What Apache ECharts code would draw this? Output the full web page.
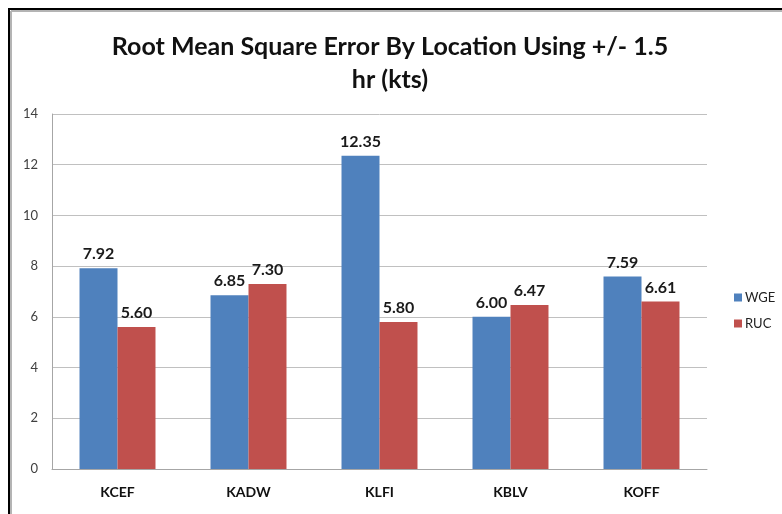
<!DOCTYPE html>
<html>
<head>
<meta charset="utf-8">
<script src="https://cdn.jsdelivr.net/npm/echarts@6/dist/echarts.min.js"></script>
<style>
  html, body { margin: 0; padding: 0; background: #fff; }
  #chart { width: 782px; height: 514px; }
</style>
</head>
<body>
<div id="chart"></div>
<script>
const locations = ['KCEF', 'KADW', 'KLFI', 'KBLV', 'KOFF']
const wgeValues = [7.92, 6.85, 12.35, 6.00, 7.59]
const rucValues = [5.60, 7.30, 5.80, 6.47, 6.61]
const seriesNames = ['WGE', 'RUC']
const seriesColors = ['#4F81BD', '#C0504D']

const chart = echarts.init(document.getElementById('chart'))

const barLabel = {
    show: true,
    position: 'top',
    distance: 6,
    fontFamily: 'Lato',
    fontWeight: 'bold',
    fontSize: 16,
    color: '#1a1a1a',
    formatter: p => p.value.toFixed(2)
}

let option = {
    animation: false,
    title: {
        text: 'Root Mean Square Error By Location Using +/- 1.5\nhr (kts)',
        left: 385,
        textAlign: 'center',
        top: 25,
        textStyle: {
            fontFamily: 'Lato',
            fontWeight: 'bold',
            fontSize: 25,
            lineHeight: 33,
            color: '#111'
        }
    },
    legend: {
        orient: 'vertical',
        left: 729,
        top: 286,
        itemWidth: 8,
        itemHeight: 8,
        itemGap: 13,
        icon: 'rect',
        textStyle: { fontFamily: 'Lato', fontSize: 13, color: '#222', padding: [0, 0, 0, -2] },
        data: seriesNames
    },
    grid: { left: 52, right: 75, top: 114, bottom: 45 },
    xAxis: {
        type: 'category',
        data: locations,
        axisLine: { lineStyle: { color: '#a6a6a6', width: 1 } },
        axisTick: { show: false },
        axisLabel: {
            margin: 16,
            fontFamily: 'Lato',
            fontWeight: 'bold',
            fontSize: 14,
            color: '#111'
        }
    },
    yAxis: {
        type: 'value',
        min: 0,
        max: 14,
        interval: 2,
        axisLine: { show: true, lineStyle: { color: '#a6a6a6' } },
        axisTick: { show: false },
        splitLine: { lineStyle: { color: '#c0c0c0', width: 1 } },
        axisLabel: { margin: 14, fontFamily: 'Lato', fontSize: 13, color: '#404040' }
    },
    series: [
        {
            name: seriesNames[0],
            type: 'bar',
            data: wgeValues,
            barGap: '0%',
            barCategoryGap: '42%',
            itemStyle: { color: seriesColors[0] },
            label: barLabel
        },
        {
            name: seriesNames[1],
            type: 'bar',
            data: rucValues,
            itemStyle: { color: seriesColors[1] },
            label: barLabel
        }
    ],
    graphic: [
        { type: 'line', shape: { x1: 11, y1: 11, x2: 782, y2: 11 }, style: { stroke: '#b4b4b4', lineWidth: 2 } },
        { type: 'line', shape: { x1: 11, y1: 11, x2: 11, y2: 514 }, style: { stroke: '#b4b4b4', lineWidth: 2 } },
        { type: 'line', shape: { x1: 8, y1: 9, x2: 782, y2: 9 }, style: { stroke: '#000', lineWidth: 2 } },
        { type: 'line', shape: { x1: 9, y1: 8, x2: 9, y2: 514 }, style: { stroke: '#000', lineWidth: 2 } }
    ]
}
chart.setOption(option)
</script>
</body>
</html>
